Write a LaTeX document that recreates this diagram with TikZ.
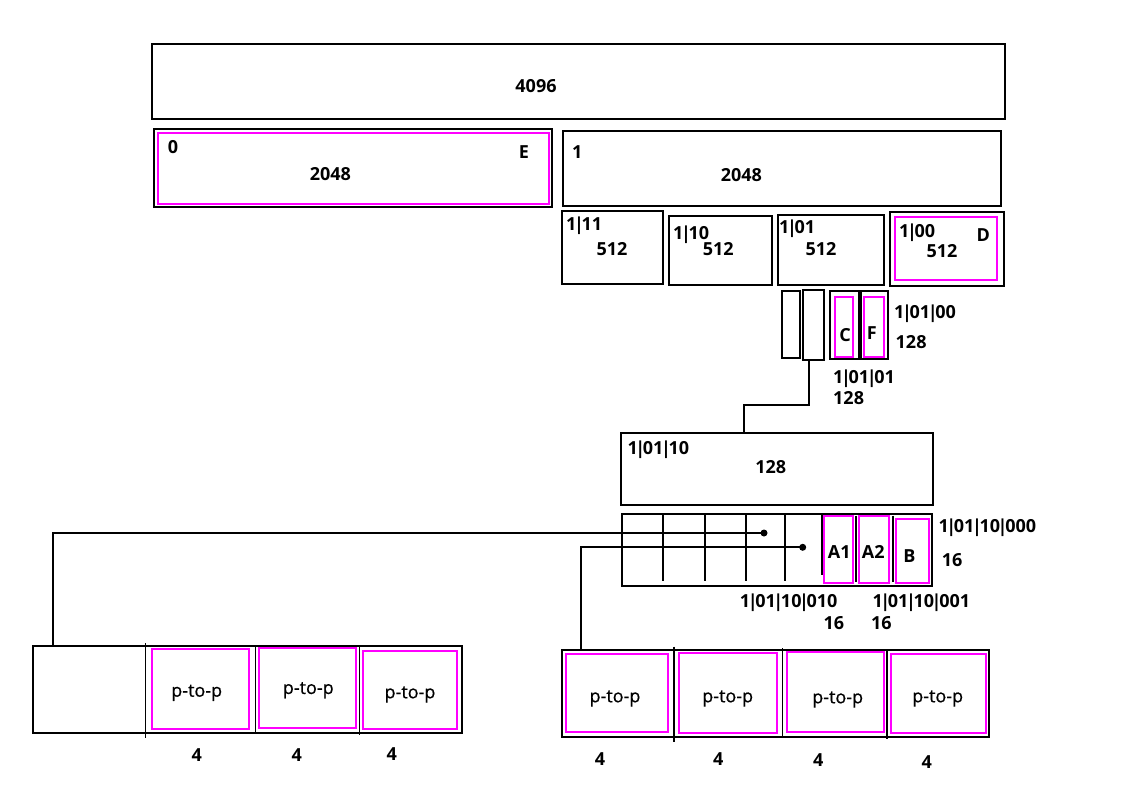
\documentclass[tikz,border=0pt]{standalone}
\usepackage{fontspec}
\setmainfont{Open Sans}
\newfontfamily\ptpfont{Open Sans}[FakeBold=0.6]
\usetikzlibrary{fit}
\definecolor{mag}{RGB}{255,0,255}
\newcommand\vb{\kern-2.4pt|\kern-2.4pt}
\begin{document}
\begin{tikzpicture}[x=1pt,y=-1pt,
 box/.style={draw=black, line width=2pt, inner sep=0pt, outer sep=0pt, rectangle},
 mbox/.style={draw=mag, line width=2pt, inner sep=0pt, outer sep=0pt, rectangle},
 lbl/.style={inner sep=0pt, text height=12.9pt, text depth=0pt, font=\fontsize{18}{20}\selectfont\bfseries},
 ptp/.style={inner sep=0pt, text height=12.9pt, text depth=0pt, font=\fontsize{18}{20}\selectfont\ptpfont},
 lw/.style={line width=2pt},
 sep/.style={line width=1.5pt},
]
\useasboundingbox (0,0) rectangle (1136,798);
% top
\node[box, fit={(152,44)(1005,119)}] (t4096) {};
\node[lbl] (l4096) at (536,86) {4096};
% half 0
\node[box, fit={(154,129)(552,207)}] (b0) {};
\node[mbox, fit={(157.5,132.5)(549,204)}] (b0m) {};
\node[lbl] (l0) at (173,147.3) {0};
\node[lbl] (lE) at (524,151.7) {E};
\node[lbl] (l0s) at (330.3,174) {2048};
% half 1
\node[box, fit={(562.5,131)(1000.7,205.7)}] (b1) {};
\node[lbl] (l1) at (577.3,151.7) {1};
\node[lbl] (l1s) at (741.3,175) {2048};
% 512 row
\node[box, fit={(561.7,211)(663.3,284)}] (b111) {};
\node[lbl, anchor=west] (l111) at (566,223.7) {1\vb11};
\node[lbl] (s111) at (612,249) {512};
\node[box, fit={(669,215.7)(772,285)}] (b110) {};
\node[lbl, anchor=west] (l110) at (673,233.3) {1\vb10};
\node[lbl] (s110) at (718.3,249) {512};
\node[box, fit={(777.7,215)(884,285)}] (b101) {};
\node[lbl, anchor=west] (l101) at (779,227.5) {1\vb01};
\node[lbl] (s101) at (821,249) {512};
\node[box, fit={(890,211.7)(1004.3,286)}] (b100) {};
\node[mbox, fit={(895.3,217.3)(996.7,280.3)}] (b100m) {};
\node[lbl, anchor=west] (l100) at (899,230.7) {1\vb00};
\node[lbl] (lD) at (983.3,234.7) {D};
\node[lbl] (s100) at (942,251.3) {512};
% 128 small boxes
\node[box, fit={(782.3,290.7)(800,357.7)}] (s1) {};
\node[box, fit={(803.3,290)(824,360)}] (s2) {};
\node[box, fit={(830,291)(858.5,359)}] (sC) {};
\node[mbox, fit={(835,297.3)(853.3,357.3)}] (sCm) {};
\node[box, fit={(860.5,291)(887.7,359)}] (sF) {};
\node[mbox, fit={(864.3,297.3)(884.3,357.3)}] (sFm) {};
\node[lbl] (lC) at (845,335) {C};
\node[lbl] (lF) at (871.8,333.3) {F};
\node[lbl, anchor=west] (l0100) at (894,312.3) {1\vb01\vb00};
\node[lbl, anchor=west] (s0100) at (895.5,342) {128};
\node[lbl, anchor=west] (l0101) at (833,377.2) {1\vb01\vb01};
\node[lbl, anchor=west] (s0101) at (833,398) {128};
% 1|01|10 box
\node[box, fit={(621,433)(932.7,505.3)}] (b0110) {};
\node[lbl, anchor=west] (l0110) at (627.3,448.3) {1\vb01\vb10};
\node[lbl] (s0110) at (770.8,467.3) {128};
\coordinate (j) at (744,405);
\draw[lw] ([xshift=-4.6pt]s2.south) |- (j) -- (j |- b0110.north);
% 16 row
\node[box, fit={(622,513.7)(932,585.7)}] (r16) {};
\foreach \x in {662.7,705,745.7,785} \draw[lw] (\x,513.7) -- (\x,580.7);
\draw[lw] (822,515) -- (822,575);
\draw[lw] (856,515.7) -- (856,581.7);
\draw[lw] (892.7,515.7) -- (892.7,581.7);
\node[mbox, fit={(824.3,516.3)(853,583)}] (mA1) {};
\node[mbox, fit={(859.3,516.3)(889.3,583)}] (mA2) {};
\node[mbox, fit={(896.3,518.7)(929.3,583.3)}] (mB) {};
\node[lbl] (lA1) at (839.2,552) {A1};
\node[lbl] (lA2) at (873.3,551.7) {A2};
\node[lbl] (lB) at (909.5,555.8) {B};
\node[lbl, anchor=west] (l000) at (938.3,525.7) {1\vb01\vb10\vb000};
\node[lbl, anchor=west] (s000) at (941.7,560) {16};
\node[lbl, anchor=west] (l010) at (739.7,600.7) {1\vb01\vb10\vb010};
\node[lbl] (s010) at (833.8,622.7) {16};
\node[lbl, anchor=west] (l001) at (872.3,600.7) {1\vb01\vb10\vb001};
\node[lbl] (s001) at (881.3,622.7) {16};
% bottom left group
\node[box, fit={(33.3,645.7)(461.7,733.3)}] (lg) {};
\draw[sep] (145.7,643) -- (145.7,737.7);
\draw[sep] (255.3,645.7) -- (255.3,733.3);
\draw[sep] (359.3,645.7) -- (359.3,735);
\node[mbox, fit={(151.7,648.7)(249,729.3)}] (lm1) {};
\node[mbox, fit={(259.3,647.7)(356,728.3)}] (lm2) {};
\node[mbox, fit={(363.3,650.7)(457,729.3)}] (lm3) {};
\node[ptp] (lp1) at (196.7,690.2) {p-to-p};
\node[ptp] (lp2) at (308.3,687.5) {p-to-p};
\node[ptp] (lp3) at (410,691.8) {p-to-p};
\node[lbl] (lf1) at (196.7,755) {4};
\node[lbl] (lf2) at (296.7,755) {4};
\node[lbl] (lf3) at (391.7,754.3) {4};
% bottom right group
\node[box, fit={(561.7,650)(989,737.3)}] (rg) {};
\draw[sep] (674,646.7) -- (674,741.7);
\draw[sep] (782.7,648) -- (782.7,737.3);
\draw[sep] (887,650) -- (887,739);
\node[mbox, fit={(566,654)(668.3,731.7)}] (rm1) {};
\node[mbox, fit={(679.3,652.7)(777,732.7)}] (rm2) {};
\node[mbox, fit={(787.3,652.3)(883.7,732.3)}] (rm3) {};
\node[mbox, fit={(891.3,654.3)(986,732.7)}] (rm4) {};
\node[ptp] (rp1) at (615,695.8) {p-to-p};
\node[ptp] (rp2) at (727.7,695.8) {p-to-p};
\node[ptp] (rp3) at (837.7,696.8) {p-to-p};
\node[ptp] (rp4) at (937.7,695.8) {p-to-p};
\node[lbl] (rf1) at (600,759.3) {4};
\node[lbl] (rf2) at (718.3,759) {4};
\node[lbl] (rf3) at (818.3,760) {4};
\node[lbl] (rf4) at (926.7,761.7) {4};
% connectors with dots
\coordinate (d1) at (764,533);
\coordinate (d2) at (802.7,547.3);
\draw[lw] (d1) -| ([xshift=19.5pt]lg.north west);
\draw[lw] (d2) -| ([xshift=19.3pt]rg.north west);
\fill (d1) circle (3.5);
\fill (d2) circle (3.5);
\end{tikzpicture}
\end{document}
